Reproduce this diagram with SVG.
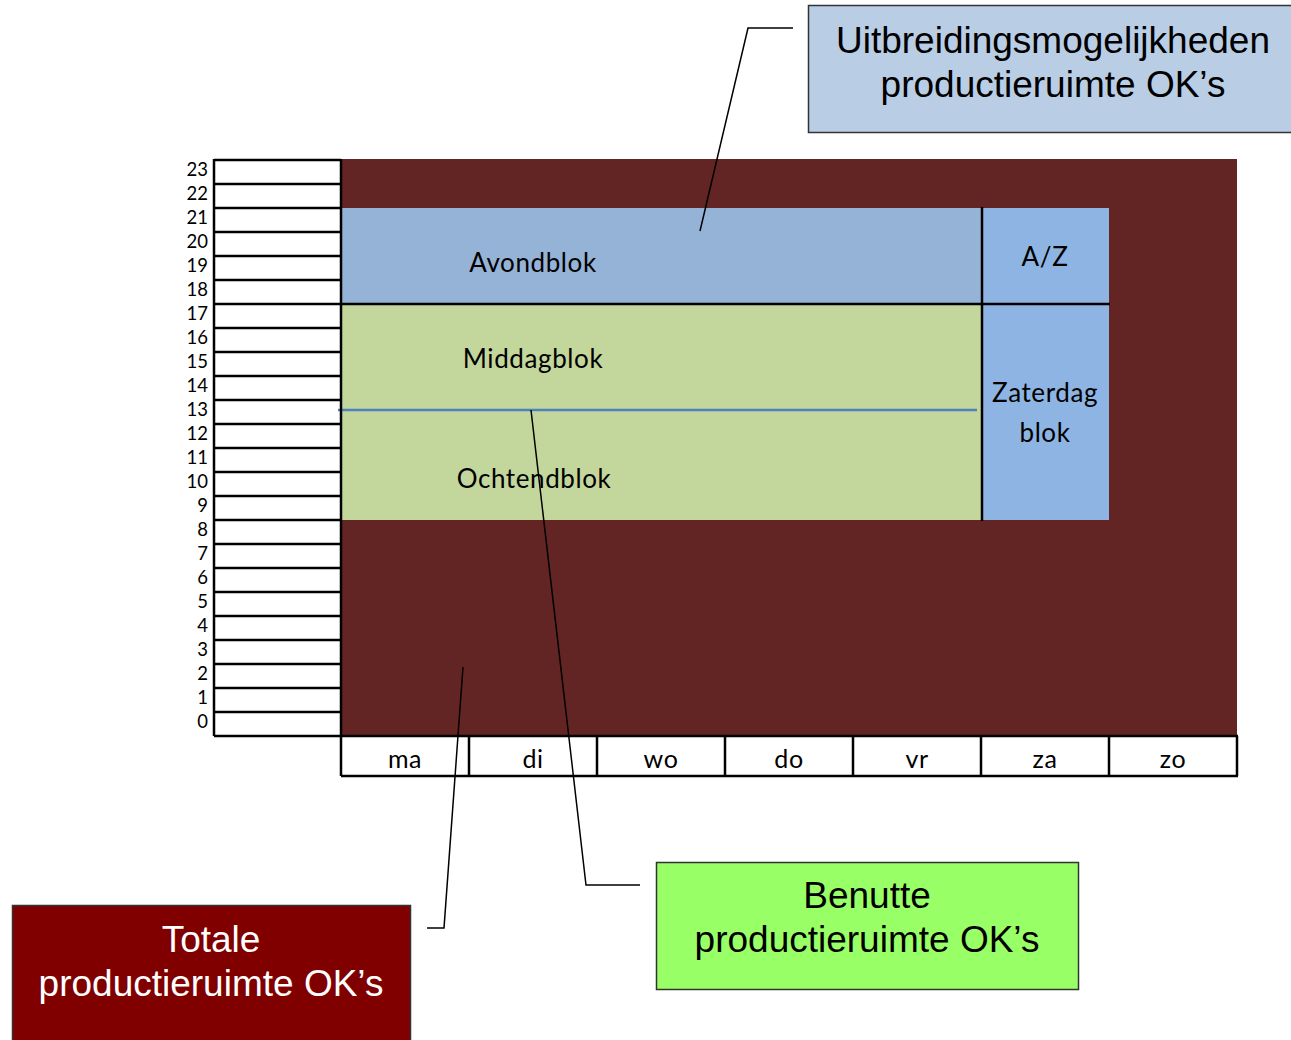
<svg xmlns="http://www.w3.org/2000/svg" width="1291" height="1040" viewBox="0 0 1291 1040">
<style>
.c{font-family:Lato,"Open Sans","Liberation Sans",sans-serif;fill:#000}
.h{font-size:18.5px;text-anchor:end}
.b{font-size:26px;letter-spacing:0.6px;text-anchor:middle}
.d{font-size:25px;letter-spacing:0.6px;text-anchor:middle}
.a{font-family:"Liberation Sans",Arial,sans-serif;font-size:37px;text-anchor:middle}
.k{stroke:#000;stroke-width:2.5;fill:none}
.con{stroke:#000;stroke-width:1.5;fill:none}
</style>
<rect width="1291" height="1040" fill="#fff"/>
<g id="chart">
<rect x="341" y="159" width="896" height="577" fill="#632523"/>
<rect x="341" y="208" width="641" height="96" fill="#95B3D7"/>
<rect x="982" y="208" width="127" height="312" fill="#8DB4E2"/>
<rect x="341" y="304" width="641" height="216" fill="#C3D69B"/>
<line x1="338" y1="410" x2="977" y2="410" stroke="#4F81BD" stroke-width="2.5"/>
<line x1="341" y1="304" x2="1110" y2="304" class="k"/>
<line x1="982" y1="207" x2="982" y2="521" class="k"/>
<text class="c b" x="533" y="272">Avondblok</text>
<text class="c b" x="533" y="368">Middagblok</text>
<text class="c b" x="534" y="488">Ochtendblok</text>
<text class="c b" x="1045" y="266">A/Z</text>
<text class="c b" x="1045" y="402">Zaterdag</text>
<text class="c b" x="1045" y="442">blok</text>
</g>
<g id="hours">
<path class="k" d="M214 159V736M341 159V776M214 160H341M214 184H341M214 208H341M214 232H341M214 256H341M214 280H341M214 304H341M214 328H341M214 352H341M214 376H341M214 400H341M214 424H341M214 448H341M214 472H341M214 496H341M214 520H341M214 544H341M214 568H341M214 592H341M214 616H341M214 640H341M214 664H341M214 688H341M214 712H341M214 736H341"/>
<text class="c h" x="208" y="176">23</text>
<text class="c h" x="208" y="200">22</text>
<text class="c h" x="208" y="224">21</text>
<text class="c h" x="208" y="248">20</text>
<text class="c h" x="208" y="272">19</text>
<text class="c h" x="208" y="296">18</text>
<text class="c h" x="208" y="320">17</text>
<text class="c h" x="208" y="344">16</text>
<text class="c h" x="208" y="368">15</text>
<text class="c h" x="208" y="392">14</text>
<text class="c h" x="208" y="416">13</text>
<text class="c h" x="208" y="440">12</text>
<text class="c h" x="208" y="464">11</text>
<text class="c h" x="208" y="488">10</text>
<text class="c h" x="208" y="512">9</text>
<text class="c h" x="208" y="536">8</text>
<text class="c h" x="208" y="560">7</text>
<text class="c h" x="208" y="584">6</text>
<text class="c h" x="208" y="608">5</text>
<text class="c h" x="208" y="632">4</text>
<text class="c h" x="208" y="656">3</text>
<text class="c h" x="208" y="680">2</text>
<text class="c h" x="208" y="704">1</text>
<text class="c h" x="208" y="728">0</text>
</g>
<g id="days">
<path class="k" d="M341 736H1238M341 776H1238M469 736V776M597 736V776M725 736V776M853 736V776M981 736V776M1109 736V776M1237 736V776"/>
<text class="c d" x="405" y="768">ma</text>
<text class="c d" x="533" y="768">di</text>
<text class="c d" x="661" y="768">wo</text>
<text class="c d" x="789" y="768">do</text>
<text class="c d" x="917" y="768">vr</text>
<text class="c d" x="1045" y="768">za</text>
<text class="c d" x="1173" y="768">zo</text>
</g>
<g id="connectors">
<polyline class="con" points="793,28 748,28 700,231"/>
<polyline class="con" points="640,885 586,885 531,410"/>
<polyline class="con" points="427,928 444,928 463,667"/>
</g>
<g id="uitbreiding">
<rect x="808.5" y="5.5" width="484" height="127" fill="#B9CDE5" stroke="#333" stroke-width="1.5"/>
<text class="a" x="1053" y="53">Uitbreidingsmogelijkheden</text>
<text class="a" x="1053" y="97">productieruimte OK’s</text>
</g>
<g id="benutte">
<rect x="656.5" y="862.5" width="422" height="127" fill="#99FF66" stroke="#333" stroke-width="1.5"/>
<text class="a" x="867" y="908">Benutte</text>
<text class="a" x="867" y="952">productieruimte OK’s</text>
</g>
<g id="totale">
<rect x="12.5" y="905.5" width="398" height="140" fill="#800000" stroke="#333" stroke-width="1.5"/>
<text class="a" x="211" y="952" style="fill:#fff">Totale</text>
<text class="a" x="211" y="996" style="fill:#fff">productieruimte OK’s</text>
</g>
</svg>
